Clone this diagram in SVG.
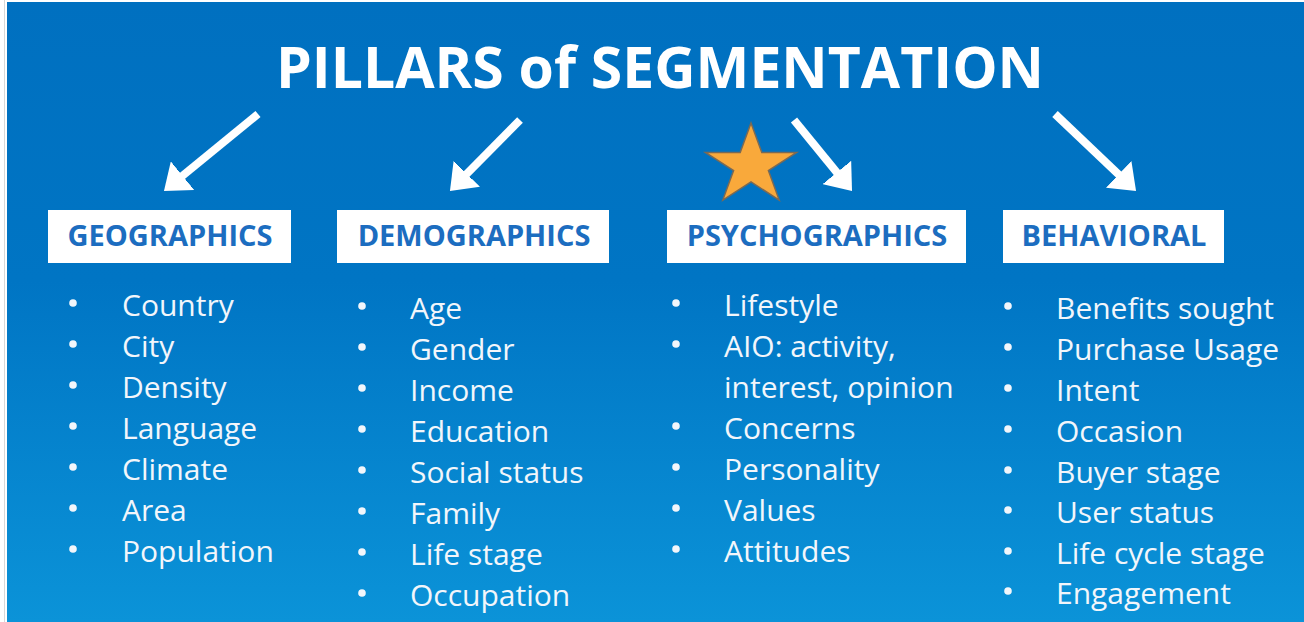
<svg xmlns="http://www.w3.org/2000/svg" width="1304" height="622" viewBox="0 0 1304 622">
<defs>
<linearGradient id="bg" x1="0" y1="0" x2="0" y2="1">
<stop offset="0" stop-color="#0070C0"/>
<stop offset="0.45" stop-color="#0075C4"/>
<stop offset="1" stop-color="#0B93D8"/>
</linearGradient>
<marker id="ah" markerUnits="userSpaceOnUse" viewBox="0 0 24 37" markerWidth="24" markerHeight="37" refX="2" refY="18.5" orient="auto">
<path d="M0,0 L24,18.5 L0,37 Z" fill="#FFFFFF"/>
</marker>
<style>
.title{font-family:"Open Sans","Liberation Sans",sans-serif;font-weight:700;font-size:58px;fill:#FFFFFF}
.box{fill:#FFFFFF}
.hd{font-family:"Open Sans","Liberation Sans",sans-serif;font-weight:700;font-size:29px;fill:#1C6DC0;text-anchor:middle}
.it{font-family:"Open Sans","Liberation Sans",sans-serif;font-size:30px;fill:#F2F6FB}
.bl{fill:#F2F6FB}
.arr{stroke:#FFFFFF;stroke-width:8;fill:none}
</style>
</defs>
<rect x="0" y="0" width="1304" height="622" fill="#FFFFFF"/>
<rect x="4" y="0" width="1" height="622" fill="#D8D8D8"/>
<rect x="7" y="2" width="1297" height="620" fill="url(#bg)"/>
<text class="title" x="276" y="88" textLength="768" lengthAdjust="spacingAndGlyphs">PILLARS of SEGMENTATION</text>
<g id="connectors">
<line class="arr" x1="258" y1="114" x2="181" y2="177" marker-end="url(#ah)"/>
<line class="arr" x1="520" y1="120" x2="465.4" y2="175.3" marker-end="url(#ah)"/>
<line class="arr" x1="794" y1="120" x2="838.1" y2="174" marker-end="url(#ah)"/>
<line class="arr" x1="1055" y1="114" x2="1120.1" y2="175.8" marker-end="url(#ah)"/>
</g>
<polygon id="star" points="751,123 761.8,152.4 796.6,152.4 768.4,170.6 779.2,200.1 751,181.9 722.8,200.1 733.6,170.6 705.4,152.4 740.2,152.4" fill="#F9A93B" stroke="#7A6A55" stroke-width="1.5" stroke-linejoin="miter"/>
<g id="geographics">
<rect class="box" x="48" y="210" width="243" height="53"/>
<text class="hd" x="170" y="246">GEOGRAPHICS</text>
<circle class="bl" cx="73" cy="303" r="3.8"/><text class="it" x="122" y="316">Country</text>
<circle class="bl" cx="73" cy="344" r="3.8"/><text class="it" x="122" y="357">City</text>
<circle class="bl" cx="73" cy="385" r="3.8"/><text class="it" x="122" y="398">Density</text>
<circle class="bl" cx="73" cy="426" r="3.8"/><text class="it" x="122" y="439">Language</text>
<circle class="bl" cx="73" cy="467" r="3.8"/><text class="it" x="122" y="480">Climate</text>
<circle class="bl" cx="73" cy="508" r="3.8"/><text class="it" x="122" y="521">Area</text>
<circle class="bl" cx="73" cy="549" r="3.8"/><text class="it" x="122" y="562">Population</text>
</g>
<g id="demographics">
<rect class="box" x="337" y="210" width="272" height="53"/>
<text class="hd" x="474" y="246">DEMOGRAPHICS</text>
<circle class="bl" cx="362" cy="306" r="3.8"/><text class="it" x="410" y="319">Age</text>
<circle class="bl" cx="362" cy="347" r="3.8"/><text class="it" x="410" y="360">Gender</text>
<circle class="bl" cx="362" cy="388" r="3.8"/><text class="it" x="410" y="401">Income</text>
<circle class="bl" cx="362" cy="429" r="3.8"/><text class="it" x="410" y="442">Education</text>
<circle class="bl" cx="362" cy="470" r="3.8"/><text class="it" x="410" y="483">Social status</text>
<circle class="bl" cx="362" cy="511" r="3.8"/><text class="it" x="410" y="524">Family</text>
<circle class="bl" cx="362" cy="552" r="3.8"/><text class="it" x="410" y="565">Life stage</text>
<circle class="bl" cx="362" cy="593" r="3.8"/><text class="it" x="410" y="606">Occupation</text>
</g>
<g id="psychographics">
<rect class="box" x="667" y="210" width="299" height="53"/>
<text class="hd" x="817" y="246">PSYCHOGRAPHICS</text>
<circle class="bl" cx="676" cy="303" r="3.8"/><text class="it" x="724" y="316">Lifestyle</text>
<circle class="bl" cx="676" cy="344" r="3.8"/><text class="it" x="724" y="357">AIO: activity,</text>
<text class="it" x="724" y="398">interest, opinion</text>
<circle class="bl" cx="676" cy="426" r="3.8"/><text class="it" x="724" y="439">Concerns</text>
<circle class="bl" cx="676" cy="467" r="3.8"/><text class="it" x="724" y="480">Personality</text>
<circle class="bl" cx="676" cy="508" r="3.8"/><text class="it" x="724" y="521">Values</text>
<circle class="bl" cx="676" cy="549" r="3.8"/><text class="it" x="724" y="562">Attitudes</text>
</g>
<g id="behavioral">
<rect class="box" x="1003" y="210" width="221" height="53"/>
<text class="hd" x="1114" y="246">BEHAVIORAL</text>
<circle class="bl" cx="1008" cy="306" r="3.8"/><text class="it" x="1056" y="319">Benefits sought</text>
<circle class="bl" cx="1008" cy="347" r="3.8"/><text class="it" x="1056" y="360">Purchase Usage</text>
<circle class="bl" cx="1008" cy="388" r="3.8"/><text class="it" x="1056" y="401">Intent</text>
<circle class="bl" cx="1008" cy="429" r="3.8"/><text class="it" x="1056" y="442">Occasion</text>
<circle class="bl" cx="1008" cy="470" r="3.8"/><text class="it" x="1056" y="483">Buyer stage</text>
<circle class="bl" cx="1008" cy="510" r="3.8"/><text class="it" x="1056" y="523">User status</text>
<circle class="bl" cx="1008" cy="551" r="3.8"/><text class="it" x="1056" y="564">Life cycle stage</text>
<circle class="bl" cx="1008" cy="591" r="3.8"/><text class="it" x="1056" y="604">Engagement</text>
</g>
</svg>
